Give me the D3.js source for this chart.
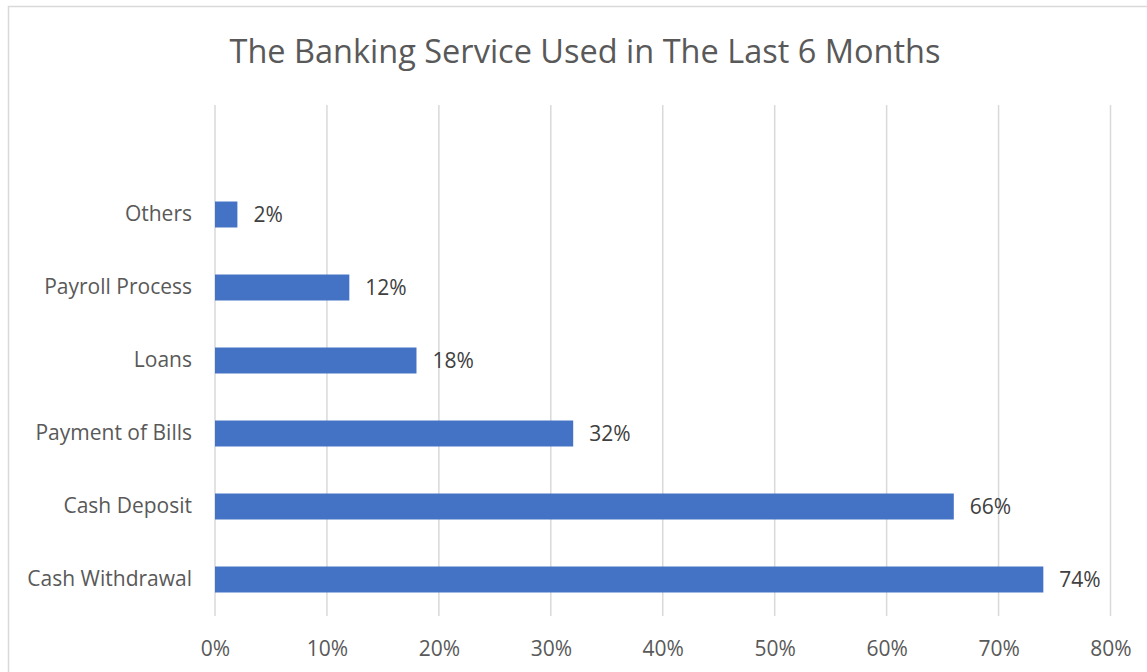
<!DOCTYPE html>
<html>
<head>
<meta charset="utf-8">
<script src="https://cdn.jsdelivr.net/npm/d3@7"></script>
<style>
  html, body { margin: 0; padding: 0; background: #fff; }
  svg { display: block; font-family: "Open Sans", Lato, sans-serif; }
</style>
</head>
<body>
<svg id="chart" width="1147" height="672"></svg>
<script>
// Share of respondents using each banking service
const categories = ["Cash Withdrawal", "Cash Deposit", "Payment of Bills", "Loans", "Payroll Process", "Others"];
const values = [74, 66, 32, 18, 12, 2];
const ticks = [0, 10, 20, 30, 40, 50, 60, 70, 80];
const title = "The Banking Service Used in The Last 6 Months";

const font = "'Open Sans', Lato, sans-serif";
const labelSize = 21;
const svg = d3.select("#chart");

// outer chart frame
svg.append("rect")
  .attr("x", 8.5).attr("y", 6.5)
  .attr("width", 1160).attr("height", 700)
  .attr("fill", "#fff").attr("stroke", "#d9d9d9").attr("stroke-width", 1.5);

const plot = { left: 215, right: 1110.5, top: 105, bottom: 616 };
const step = 73;

const x = d3.scaleLinear().domain([0, 80]).range([plot.left, plot.right]);
const y = d3.scaleBand()
  .domain(categories)
  .range([plot.bottom, plot.bottom - step * categories.length])
  .paddingInner(0.644).paddingOuter(0.322);

// vertical gridlines
svg.append("g").selectAll("line")
  .data(ticks).join("line")
  .attr("x1", d => x(d)).attr("x2", d => x(d))
  .attr("y1", plot.top).attr("y2", plot.bottom)
  .attr("stroke", "#d9d9d9").attr("stroke-width", 1.5);

// bottom axis labels
const xAxis = d3.axisBottom(x).tickValues(ticks).tickFormat(d => d + "%").tickSize(0).tickPadding(0);
const gx = svg.append("g").attr("transform", `translate(0,${plot.bottom + 25})`).call(xAxis);
gx.select(".domain").remove();
gx.selectAll("text").attr("fill", "#595959").attr("font-size", labelSize).attr("dy", "0.71em")
  .attr("font-family", font);

// left category labels
const yAxis = d3.axisLeft(y).tickSize(0).tickPadding(23);
const gy = svg.append("g").attr("transform", `translate(${plot.left},0)`).call(yAxis);
gy.select(".domain").remove();
gy.selectAll("text").attr("fill", "#595959").attr("font-size", labelSize)
  .attr("font-family", font);

// bars
svg.append("g").selectAll("rect")
  .data(categories).join("rect")
  .attr("x", x(0))
  .attr("y", d => y(d))
  .attr("width", (d, i) => x(values[i]) - x(0))
  .attr("height", y.bandwidth())
  .attr("fill", "#4472c4");

// value labels
svg.append("g").selectAll("text")
  .data(categories).join("text")
  .attr("x", (d, i) => x(values[i]) + 16)
  .attr("y", d => y(d) + y.bandwidth() / 2)
  .attr("dy", "0.35em")
  .attr("font-size", labelSize)
  .attr("fill", "#404040")
  .attr("font-family", font)
  .text((d, i) => values[i] + "%");

// title
svg.append("text")
  .attr("x", 585).attr("y", 63)
  .attr("text-anchor", "middle")
  .attr("font-size", 32.5)
  .attr("fill", "#595959")
  .attr("font-family", font)
  .text(title);
</script>
</body>
</html>
